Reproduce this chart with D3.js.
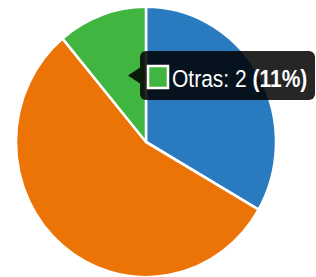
<!DOCTYPE html>
<html>
<head>
<meta charset="utf-8">
<script src="https://cdn.jsdelivr.net/npm/d3@7"></script>
<style>
  body { margin: 0; background: #fff; }
  svg { display: block; }
</style>
</head>
<body>
<svg id="chart" width="316" height="277"></svg>
<script>
// slice data, clockwise from 12 o'clock
var labels = ['Serie A', 'Serie B', 'Otras'];
var values = [6, 10, 2];
var colors = ['#2a7abf', '#ec7306', '#40b540'];

// tooltip shows this slice
var hoverIndex = 2;

var svg = d3.select('#chart');
var cx = 146, cy = 142, radius = 130;

var pie = d3.pie().sort(null).value(function(d) { return d; });
var arc = d3.arc().innerRadius(0).outerRadius(radius);
var arcs = pie(values);

// pie is a bit taller than wide in the picture
var g = svg.append('g')
  .attr('transform', 'translate(' + cx + ',' + cy + ') scale(1,1.04)');

g.selectAll('path')
  .data(arcs)
  .enter().append('path')
  .attr('d', arc)
  .attr('fill', function(d, i) { return colors[i]; })
  .attr('stroke', '#fff')
  .attr('stroke-width', 2.5)
  .attr('stroke-linejoin', 'round');

// tooltip
var total = d3.sum(values);
var pct = Math.round(values[hoverIndex] / total * 100);

var tip = svg.append('g');
var tx = 140, ty = 51, tw = 175, th = 49;

tip.append('path')
  .attr('d', 'M' + tx + ',' + (ty + th / 2 - 8) + ' L' + (tx - 12) + ',' + (ty + th / 2) + ' L' + tx + ',' + (ty + th / 2 + 8) + 'Z')
  .attr('fill', 'rgba(0,0,0,0.85)');

tip.append('rect')
  .attr('x', tx).attr('y', ty)
  .attr('width', tw).attr('height', th)
  .attr('rx', 6)
  .attr('fill', 'rgba(0,0,0,0.85)');

tip.append('rect')
  .attr('x', 148).attr('y', 66)
  .attr('width', 20).attr('height', 22)
  .attr('fill', colors[hoverIndex])
  .attr('stroke', '#fff')
  .attr('stroke-width', 2.5);

var label = tip.append('text')
  .attr('transform', 'translate(172,87) scale(1,1.18)')
  .attr('fill', '#fff')
  .style('font-family', 'Liberation Sans, Arial, sans-serif')
  .style('font-size', '21px');

label.append('tspan').text(labels[hoverIndex] + ': ' + values[hoverIndex] + ' ');
label.append('tspan').style('font-weight', 'bold').text('(' + pct + '%)');
</script>
</body>
</html>
